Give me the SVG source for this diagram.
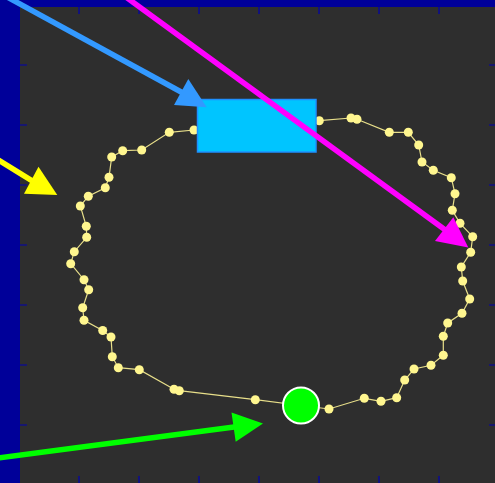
<svg xmlns="http://www.w3.org/2000/svg" width="495" height="483" viewBox="0 0 495 483">
<style>
.tick{stroke:#0000b0;stroke-width:1.2}
.dot{fill:#fff68f}
.path{fill:none;stroke:#e8df8a;stroke-width:1.2}
.arrow{fill:none;stroke-width:5.5}
</style>
<rect x="0" y="0" width="495" height="483" fill="#000099"/>
<rect x="20" y="7" width="480" height="480" fill="#2e2e2e"/>
<g id="ticks">
<path class="tick" d="M79,7v7M139,7v7M199,7v7M259,7v7M319,7v7M379,7v7M439,7v7"/>
<path class="tick" d="M79,483v-7M139,483v-7M199,483v-7M259,483v-7M319,483v-7M379,483v-7M439,483v-7"/>
<path class="tick" d="M20,65h7M20,125h7M20,185h7M20,245h7M20,305h7M20,365h7M20,425h7"/>
<path class="tick" d="M495,65h-6M495,125h-6M495,185h-6M495,245h-6M495,305h-6M495,365h-6M495,425h-6"/>
</g>
<g id="connectors">
<polygon class="path" points="169.3,132.3 194,130 319.3,120.7 351,118 357,119.3 389.3,132.3 408.3,132.3 418.7,145 422,162 433.3,170.3 451.3,177.7 455,193.7 452.3,210.3 460,223.3 472.7,236.7 470.7,252.3 461.3,267 462.7,281 469.7,299 462,313.3 447.7,323 443.3,336.3 443.3,355.3 431,365.3 414,369 404.7,380 396.7,397.7 381,401.3 364.3,398.3 329,409 301,405.5 255.3,399.7 179.3,390.7 174,389.3 139.3,369.7 118.3,367.7 112.3,356.7 111,337 102.7,330.5 84,320.3 82.7,307.7 88.7,289.7 84,279.7 70.7,263.7 74.3,251.7 86.7,237.3 86.3,226.3 80.3,206 88.3,196.2 105.3,187.7 109,177.3 111.7,157 122.7,150.7 141.7,150"/>
</g>
<g id="dots">
<g id="d1"><circle class="dot" cx="169.3" cy="132.3" r="4.5"/></g>
<g id="d2"><circle class="dot" cx="194" cy="130" r="4.5"/></g>
<g id="d3"><circle class="dot" cx="319.3" cy="120.7" r="4.5"/></g>
<g id="d4"><circle class="dot" cx="351" cy="118" r="4.5"/></g>
<g id="d5"><circle class="dot" cx="357" cy="119.3" r="4.5"/></g>
<g id="d6"><circle class="dot" cx="389.3" cy="132.3" r="4.5"/></g>
<g id="d7"><circle class="dot" cx="408.3" cy="132.3" r="4.5"/></g>
<g id="d8"><circle class="dot" cx="418.7" cy="145" r="4.5"/></g>
<g id="d9"><circle class="dot" cx="422" cy="162" r="4.5"/></g>
<g id="d10"><circle class="dot" cx="433.3" cy="170.3" r="4.5"/></g>
<g id="d11"><circle class="dot" cx="451.3" cy="177.7" r="4.5"/></g>
<g id="d12"><circle class="dot" cx="455" cy="193.7" r="4.5"/></g>
<g id="d13"><circle class="dot" cx="452.3" cy="210.3" r="4.5"/></g>
<g id="d14"><circle class="dot" cx="460" cy="223.3" r="4.5"/></g>
<g id="d15"><circle class="dot" cx="472.7" cy="236.7" r="4.5"/></g>
<g id="d16"><circle class="dot" cx="470.7" cy="252.3" r="4.5"/></g>
<g id="d17"><circle class="dot" cx="461.3" cy="267" r="4.5"/></g>
<g id="d18"><circle class="dot" cx="462.7" cy="281" r="4.5"/></g>
<g id="d19"><circle class="dot" cx="469.7" cy="299" r="4.5"/></g>
<g id="d20"><circle class="dot" cx="462" cy="313.3" r="4.5"/></g>
<g id="d21"><circle class="dot" cx="447.7" cy="323" r="4.5"/></g>
<g id="d22"><circle class="dot" cx="443.3" cy="336.3" r="4.5"/></g>
<g id="d23"><circle class="dot" cx="443.3" cy="355.3" r="4.5"/></g>
<g id="d24"><circle class="dot" cx="431" cy="365.3" r="4.5"/></g>
<g id="d25"><circle class="dot" cx="414" cy="369" r="4.5"/></g>
<g id="d26"><circle class="dot" cx="404.7" cy="380" r="4.5"/></g>
<g id="d27"><circle class="dot" cx="396.7" cy="397.7" r="4.5"/></g>
<g id="d28"><circle class="dot" cx="381" cy="401.3" r="4.5"/></g>
<g id="d29"><circle class="dot" cx="364.3" cy="398.3" r="4.5"/></g>
<g id="d30"><circle class="dot" cx="329" cy="409" r="4.5"/></g>
<g id="d32"><circle class="dot" cx="255.3" cy="399.7" r="4.5"/></g>
<g id="d33"><circle class="dot" cx="179.3" cy="390.7" r="4.5"/></g>
<g id="d34"><circle class="dot" cx="174" cy="389.3" r="4.5"/></g>
<g id="d35"><circle class="dot" cx="139.3" cy="369.7" r="4.5"/></g>
<g id="d36"><circle class="dot" cx="118.3" cy="367.7" r="4.5"/></g>
<g id="d37"><circle class="dot" cx="112.3" cy="356.7" r="4.5"/></g>
<g id="d38"><circle class="dot" cx="111" cy="337" r="4.5"/></g>
<g id="d39"><circle class="dot" cx="102.7" cy="330.5" r="4.5"/></g>
<g id="d40"><circle class="dot" cx="84" cy="320.3" r="4.5"/></g>
<g id="d41"><circle class="dot" cx="82.7" cy="307.7" r="4.5"/></g>
<g id="d42"><circle class="dot" cx="88.7" cy="289.7" r="4.5"/></g>
<g id="d43"><circle class="dot" cx="84" cy="279.7" r="4.5"/></g>
<g id="d44"><circle class="dot" cx="70.7" cy="263.7" r="4.5"/></g>
<g id="d45"><circle class="dot" cx="74.3" cy="251.7" r="4.5"/></g>
<g id="d46"><circle class="dot" cx="86.7" cy="237.3" r="4.5"/></g>
<g id="d47"><circle class="dot" cx="86.3" cy="226.3" r="4.5"/></g>
<g id="d48"><circle class="dot" cx="80.3" cy="206" r="4.5"/></g>
<g id="d49"><circle class="dot" cx="88.3" cy="196.2" r="4.5"/></g>
<g id="d50"><circle class="dot" cx="105.3" cy="187.7" r="4.5"/></g>
<g id="d51"><circle class="dot" cx="109" cy="177.3" r="4.5"/></g>
<g id="d52"><circle class="dot" cx="111.7" cy="157" r="4.5"/></g>
<g id="d53"><circle class="dot" cx="122.7" cy="150.7" r="4.5"/></g>
<g id="d54"><circle class="dot" cx="141.7" cy="150" r="4.5"/></g>
</g>
<g id="box"><rect x="197.5" y="99.5" width="118.5" height="52.5" fill="#00c5ff" stroke="#1e90ff" stroke-width="1.5"/></g>
<g id="marker"><circle cx="301" cy="405.5" r="18" fill="#00ff00" stroke="#ffffff" stroke-width="2"/></g>
<g id="arrows">
<line class="arrow" x1="-2" y1="-8" x2="183" y2="93" stroke="#3399ff"/>
<polygon points="206.7,107.3 188.3,79 174,105" fill="#3399ff"/>
<line class="arrow" x1="119" y1="-8" x2="446" y2="230.5" stroke="#ff00ff"/>
<polygon points="468.3,247.5 453.3,217.2 435,241" fill="#ff00ff"/>
<line class="arrow" x1="-10" y1="154.8" x2="33" y2="181.3" stroke="#ffff00"/>
<polygon points="57.3,195 38.5,166.7 24,193.7" fill="#ffff00"/>
<line class="arrow" x1="-10" y1="459" x2="236" y2="426.8" stroke="#00ff00" stroke-width="6.5"/>
<polygon points="263,423.5 231.5,412.5 235.7,441.7" fill="#00ff00"/>
</g>
</svg>
